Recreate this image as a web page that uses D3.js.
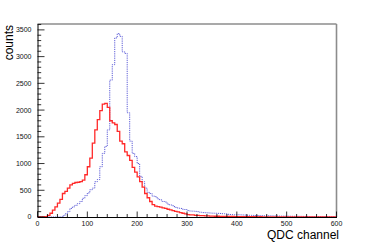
<!DOCTYPE html>
<html><head><meta charset="utf-8">
<script src="https://cdn.jsdelivr.net/npm/d3@7"></script>
<style>body{margin:0;background:#fff}svg{display:block}</style>
</head><body>
<svg id="c" width="374" height="242"></svg>
<script>
// bin lower edges (QDC channel), 5-channel bins
const binStart = d3.range(0, 600, 5);
// red (solid) series counts per bin
const redCounts = [
  0,0,0,5,30,70,130,190,260,330,
  440,480,540,600,630,645,650,660,690,790,
  940,1100,1380,1630,1820,1990,2110,2125,2050,1800,
  1760,1730,1600,1420,1370,1220,1150,1060,930,840,
  750,660,560,440,360,290,230,205,195,185,
  170,160,145,135,120,105,95,80,70,60,
  45,40,38,32,30,26,24,20,20,17,
  16,14,14,12,12,10,11,9,9,8,
  8,7,8,6,6,5,6,5,4,5,
  4,4,3,4,3,3,3,2,3,2,
  2,2,2,1,2,1,1,2,1,1,
  1,1,0,1,1,0,1,0,0,0
];
// blue (dotted) series counts per bin
const blueCounts = [
  0,0,0,0,0,0,0,0,0,0,
  20,60,100,160,190,220,250,290,350,400,
  450,510,540,660,700,940,1190,1320,1630,2560,
  2850,3350,3430,3380,3090,3060,1950,1420,1190,1130,
  1000,760,660,540,460,440,390,380,340,320,
  290,280,240,225,210,180,170,160,145,140,
  120,112,110,105,100,90,82,80,78,75,
  72,70,68,66,62,60,50,46,44,42,
  42,40,38,36,33,31,30,28,27,25,
  24,23,22,21,20,19,18,17,16,16,
  15,14,13,13,12,12,11,10,10,9,
  9,8,8,8,7,7,6,6,6,5
];
const xTicks = [0,100,200,300,400,500,600];
const yTicks = [0,500,1000,1500,2000,2500,3000,3500];
const xTitle = "QDC channel";
const yTitle = "counts";

const svg = d3.select("#c");
const x = d3.scaleLinear().domain([0,600]).range([37.5,336.5]);
const y = d3.scaleLinear().domain([0,3610]).range([217,24]);

// frame top/right
svg.append("line").attr("x1",37.5).attr("x2",336.5).attr("y1",24).attr("y2",24)
  .attr("stroke","#8c8c8c").attr("stroke-width",1.6);
svg.append("line").attr("x1",336.5).attr("x2",336.5).attr("y1",24).attr("y2",217)
  .attr("stroke","#8c8c8c").attr("stroke-width",1.6);

function stepPts(counts){
  const pts = binStart.map((b,i)=>[b,counts[i]]);
  pts.push([600, counts[counts.length-1]]);
  return pts;
}
const line = d3.line().x(d=>x(d[0])).y(d=>y(d[1])).curve(d3.curveStepAfter);

svg.append("path").attr("d", line(stepPts(blueCounts)))
  .attr("fill","none").attr("stroke","#5a5ad6").attr("stroke-width",1)
  .attr("stroke-dasharray","1.2,1");
svg.append("path").attr("d", line(stepPts(redCounts)))
  .attr("fill","none").attr("stroke","#ff2a2a").attr("stroke-width",1.3);

// axes
const gx = svg.append("g").attr("transform","translate(0,217)");
gx.call(d3.axisBottom(x).tickValues(d3.range(0,601,20)).tickSize(0).tickFormat(""));
gx.select(".domain").attr("stroke","#000");
gx.selectAll(".tick line").remove();
d3.range(0,601,20).forEach(v=>{
  const major = v%100===0;
  gx.append("line").attr("x1",x(v)).attr("x2",x(v)).attr("y1",0).attr("y2",major?-5.5:-3)
    .attr("stroke","#000").attr("stroke-width",0.8);
});
gx.selectAll(".lbl").data(xTicks).enter().append("text")
  .attr("x",d=>x(d)).attr("y",8.5).attr("text-anchor","middle")
  .attr("font-family","Liberation Sans, Arial, sans-serif").attr("font-size",7).attr("fill","#111")
  .text(d=>d);

const gy = svg.append("g").attr("transform","translate(37.5,0)");
gy.call(d3.axisLeft(y).tickValues(d3.range(0,3601,100)).tickSize(0).tickFormat(""));
gy.select(".domain").attr("stroke","#000");
d3.range(0,3601,100).forEach(v=>{
  const major = v%500===0;
  gy.append("line").attr("x1",0).attr("x2",major?7:3.7).attr("y1",y(v)).attr("y2",y(v))
    .attr("stroke","#000").attr("stroke-width",0.8);
});
gy.selectAll(".lbl").data(yTicks).enter().append("text")
  .attr("x",-6).attr("y",d=>y(d)).attr("dy","0.35em").attr("text-anchor","end")
  .attr("font-family","Liberation Sans, Arial, sans-serif").attr("font-size",7).attr("fill","#111")
  .text(d=>d);

svg.append("text").attr("x",339).attr("y",238.5).attr("text-anchor","end")
  .attr("font-family","Liberation Sans, Arial, sans-serif").attr("font-size",12).attr("fill","#000")
  .text(xTitle);
svg.append("text").attr("transform","translate(12.5,25) rotate(-90)").attr("text-anchor","end")
  .attr("font-family","Liberation Sans, Arial, sans-serif").attr("font-size",12).attr("fill","#000")
  .text(yTitle);
</script>
</body></html>
